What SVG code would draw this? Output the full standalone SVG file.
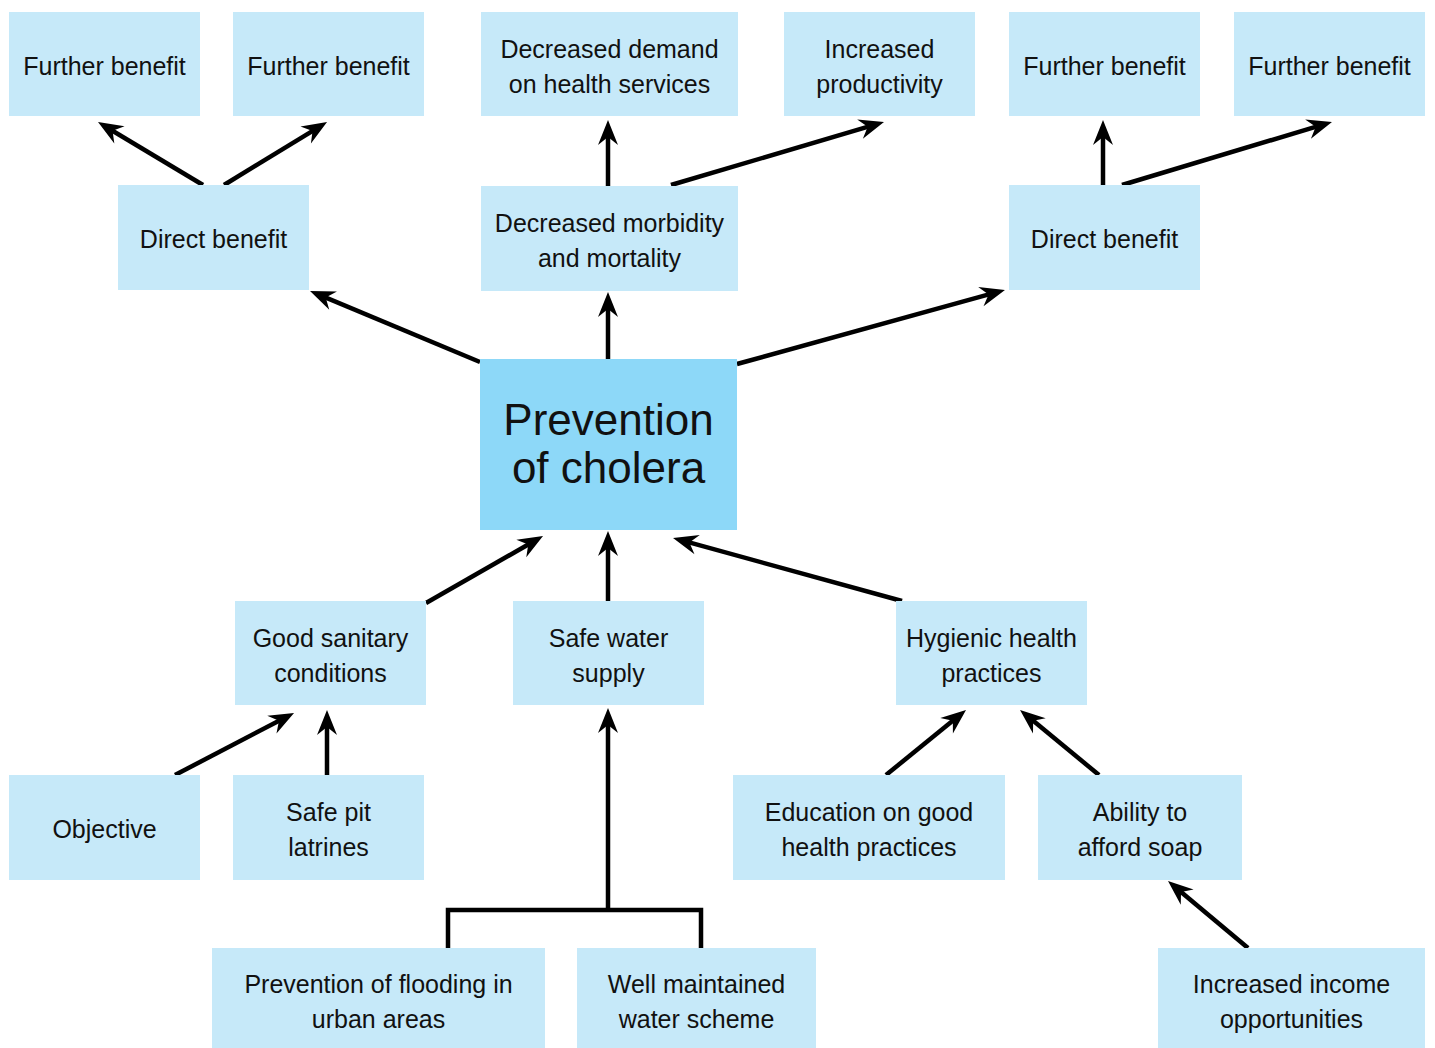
<svg xmlns="http://www.w3.org/2000/svg" width="1435" height="1048" viewBox="0 0 1435 1048">
<style>
.box{fill:#c6e9f9}
.main{fill:#8dd8f8}
text{font-family:"Liberation Sans",Arial,sans-serif;font-size:25px;fill:#111;text-anchor:middle}
.big{font-size:44px}
.c{fill:none;stroke:#000;stroke-width:4.5}
.a{marker-end:url(#ah)}
</style>
<defs>
<marker id="ah" markerUnits="userSpaceOnUse" viewBox="-26 -11 28 22" refX="-12" refY="0" markerWidth="28" markerHeight="22" orient="auto">
<path d="M0,0 L-25,-10 L-17,0 L-25,10 Z" fill="#000"/>
</marker>
</defs>
<rect width="1435" height="1048" fill="#fff"/>
<g id="connectors">
<path class="c a" d="M203,185 L108.3,128.2"/>
<path class="c a" d="M224,185 L316.8,128.3"/>
<path class="c a" d="M608,186 L608,132"/>
<path class="c a" d="M671,185 L872.5,125.4"/>
<path class="c a" d="M1103,185 L1103,132"/>
<path class="c a" d="M1122,185 L1320.5,125.4"/>
<path class="c a" d="M480,362 L321.1,295.6"/>
<path class="c a" d="M608,359 L608,304"/>
<path class="c a" d="M737,364 L993.4,293.2"/>
<path class="c a" d="M426,603 L532.6,542"/>
<path class="c a" d="M608,601 L608,543"/>
<path class="c a" d="M902,601 L684.6,541.2"/>
<path class="c a" d="M175,775 L283.4,718.5"/>
<path class="c a" d="M327,775 L327,722"/>
<path class="c a" d="M886,775 L956.7,717.6"/>
<path class="c a" d="M1099,775 L1029.3,717.6"/>
<path class="c a" d="M1248,948 L1177.2,888.7"/>
<path class="c" d="M448,948 V910 H701 V948"/>
<path class="c a" d="M608,910 L608,720"/>
</g>
<g id="n1"><rect class="box" x="9" y="12" width="191" height="104"/><text x="104.5" y="75">Further benefit</text></g>
<g id="n2"><rect class="box" x="233" y="12" width="191" height="104"/><text x="328.5" y="75">Further benefit</text></g>
<g id="n3"><rect class="box" x="481" y="12" width="257" height="104"/><text x="609.5" y="58">Decreased demand</text><text x="609.5" y="93">on health services</text></g>
<g id="n4"><rect class="box" x="784" y="12" width="191" height="104"/><text x="879.5" y="58">Increased</text><text x="879.5" y="93">productivity</text></g>
<g id="n5"><rect class="box" x="1009" y="12" width="191" height="104"/><text x="1104.5" y="75">Further benefit</text></g>
<g id="n6"><rect class="box" x="1234" y="12" width="191" height="104"/><text x="1329.5" y="75">Further benefit</text></g>
<g id="n7"><rect class="box" x="118" y="185" width="191" height="105"/><text x="213.5" y="248">Direct benefit</text></g>
<g id="n8"><rect class="box" x="481" y="186" width="257" height="105"/><text x="609.5" y="232">Decreased morbidity</text><text x="609.5" y="267">and mortality</text></g>
<g id="n9"><rect class="box" x="1009" y="185" width="191" height="105"/><text x="1104.5" y="248">Direct benefit</text></g>
<g id="n10"><rect class="main" x="480" y="359" width="257" height="171"/><text class="big" x="608.5" y="435">Prevention</text><text class="big" x="608.5" y="483">of cholera</text></g>
<g id="n11"><rect class="box" x="235" y="601" width="191" height="104"/><text x="330.5" y="647">Good sanitary</text><text x="330.5" y="682">conditions</text></g>
<g id="n12"><rect class="box" x="513" y="601" width="191" height="104"/><text x="608.5" y="647">Safe water</text><text x="608.5" y="682">supply</text></g>
<g id="n13"><rect class="box" x="896" y="601" width="191" height="104"/><text x="991.5" y="647">Hygienic health</text><text x="991.5" y="682">practices</text></g>
<g id="n14"><rect class="box" x="9" y="775" width="191" height="105"/><text x="104.5" y="838">Objective</text></g>
<g id="n15"><rect class="box" x="233" y="775" width="191" height="105"/><text x="328.5" y="821">Safe pit</text><text x="328.5" y="856">latrines</text></g>
<g id="n16"><rect class="box" x="733" y="775" width="272" height="105"/><text x="869" y="821">Education on good</text><text x="869" y="856">health practices</text></g>
<g id="n17"><rect class="box" x="1038" y="775" width="204" height="105"/><text x="1140" y="821">Ability to</text><text x="1140" y="856">afford soap</text></g>
<g id="n18"><rect class="box" x="212" y="948" width="333" height="100"/><text x="378.5" y="993">Prevention of flooding in</text><text x="378.5" y="1028">urban areas</text></g>
<g id="n19"><rect class="box" x="577" y="948" width="239" height="100"/><text x="696.5" y="993">Well maintained</text><text x="696.5" y="1028">water scheme</text></g>
<g id="n20"><rect class="box" x="1158" y="948" width="267" height="100"/><text x="1291.5" y="993">Increased income</text><text x="1291.5" y="1028">opportunities</text></g>
</svg>
